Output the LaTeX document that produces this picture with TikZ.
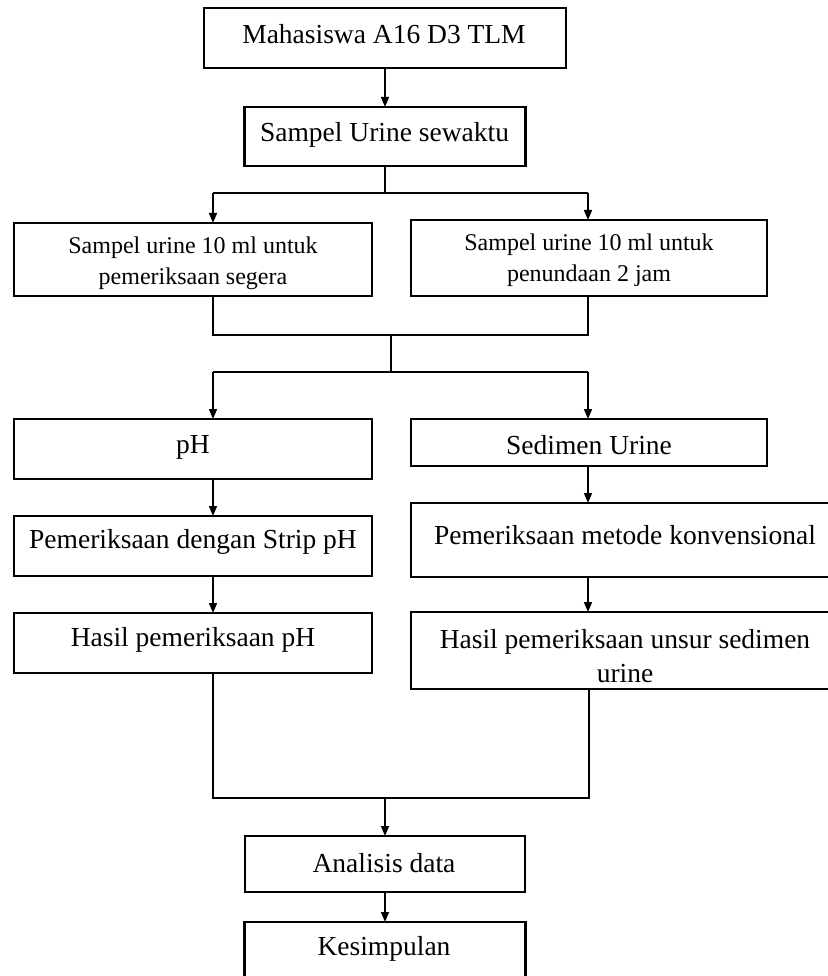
\documentclass[tikz,border=0pt]{standalone}
\usepackage{fontspec}
\setmainfont{Liberation Serif}
\usetikzlibrary{arrows.meta}
\begin{document}
\begin{tikzpicture}[x=1pt,y=-1pt,
  box/.style={draw=black,line width=2.4pt,rectangle,inner sep=0pt,outer sep=0pt},
  txt/.style={font=\fontsize{27.5}{31}\selectfont,inner sep=0pt,align=center},
  stxt/.style={font=\fontsize{24}{31}\selectfont,inner sep=0pt,align=center},
  ltxt/.style={font=\fontsize{27.5}{34}\selectfont,inner sep=0pt,align=center},
  conn/.style={line width=1.6pt,draw=black},
  arr/.style={conn,-{Triangle[width=8pt,length=10pt]}}]
\useasboundingbox (0,0) rectangle (827,976);
% boxes
\node[box,minimum width=362pt,minimum height=60pt] (b1) at (385,38) {};
\node[box,minimum width=281pt,minimum height=59pt] (b2) at (385,136.5) {};
\node[box,minimum width=358pt,minimum height=73pt] (b3) at (193,259.5) {};
\node[box,minimum width=356pt,minimum height=76pt] (b4) at (589,258) {};
\node[box,minimum width=358pt,minimum height=60pt] (b5) at (193,449) {};
\node[box,minimum width=356pt,minimum height=47pt] (b6) at (589,442.5) {};
\node[box,minimum width=358pt,minimum height=60pt] (b7) at (193,546) {};
\node[box,minimum width=434pt,minimum height=74pt] (b8) at (628,540) {};
\node[box,minimum width=358pt,minimum height=60pt] (b9) at (193,643) {};
\node[box,minimum width=434pt,minimum height=77pt] (b10) at (628,650.5) {};
\node[box,minimum width=280pt,minimum height=56pt] (b11) at (385,864) {};
\node[box,minimum width=281pt,minimum height=68pt] (b12) at (385,956) {};
% texts
\node[txt] (t1) at (384,34) {Mahasiswa A16 D3 TLM};
\node[txt] (t2) at (384.5,135) {Sampel Urine sewaktu};
\node[stxt] (t3) at (193,263) {Sampel urine 10 ml untuk\\pemeriksaan segera};
\node[stxt] (t4) at (589,260) {Sampel urine 10 ml untuk\\penundaan 2 jam};
\node[txt] (t5) at (193,447) {pH};
\node[txt] (t6) at (589,445) {Sedimen Urine};
\node[txt] (t7) at (193,542) {Pemeriksaan dengan Strip pH};
\node[txt] (t8) at (625,535) {Pemeriksaan metode konvensional};
\node[txt] (t9) at (193,640) {Hasil pemeriksaan pH};
\node[ltxt] (t10) at (625,656) {Hasil pemeriksaan unsur sedimen\\urine};
\node[txt] (t11) at (384,863) {Analisis data};
\node[txt] (t12) at (384,949) {Kesimpulan};
% junction coordinates
\coordinate (s1l) at (213,193);
\coordinate (s1r) at (588,193);
\coordinate (m1l) at (213,335);
\coordinate (m1r) at (588,335);
\coordinate (m1c) at (391,335);
\coordinate (s2c) at (391,372);
\coordinate (s2l) at (213,372);
\coordinate (s2r) at (588,372);
\coordinate (m2l) at (213,798);
\coordinate (m2r) at (589,798);
\coordinate (m2c) at (385,798);
% connectors
\draw[arr] (b1.south) -- (b1.south |- b2.north);
\draw[conn] (b2.south) -- (b2.south |- s1l);
\draw[conn] (s1l) -- (s1r);
\draw[arr] (s1l) -- (s1l |- b3.north);
\draw[arr] (s1r) -- (s1r |- b4.north);
\draw[conn] (m1l |- b3.south) -- (m1l) -- (m1r) -- (m1r |- b4.south);
\draw[conn] (m1c) -- (s2c);
\draw[conn] (s2l) -- (s2r);
\draw[arr] (s2l) -- (s2l |- b5.north);
\draw[arr] (s2r) -- (s2r |- b6.north);
\draw[arr] (s2l |- b5.south) -- (s2l |- b7.north);
\draw[arr] (s2l |- b7.south) -- (s2l |- b9.north);
\draw[arr] (s2r |- b6.south) -- (s2r |- b8.north);
\draw[arr] (s2r |- b8.south) -- (s2r |- b10.north);
\draw[conn] (m2l |- b9.south) -- (m2l) -- (m2r) -- (m2r |- b10.south);
\draw[arr] (m2c) -- (m2c |- b11.north);
\draw[arr] (b11.south) -- (b11.south |- b12.north);
\end{tikzpicture}
\end{document}
